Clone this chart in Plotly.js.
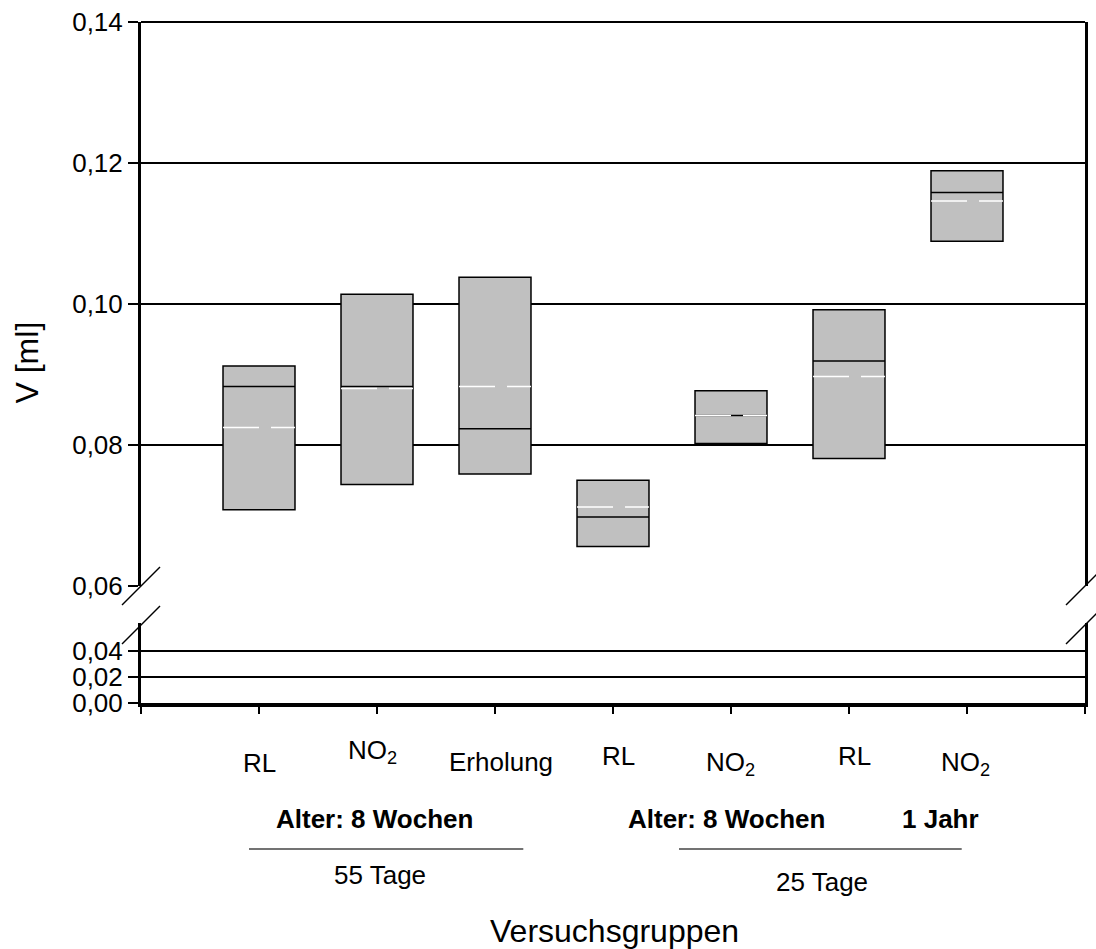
<!DOCTYPE html>
<html>
<head>
<meta charset="utf-8">
<script src="https://cdn.plot.ly/plotly-3.0.1.min.js"></script>
<style>html,body{margin:0;padding:0;background:#fff;}#chart{width:1096px;height:949px;}</style>
</head>
<body>
<div id="chart"></div>
<script>
// ---- data ----
var groups = ['RL', 'NO<sub>2</sub>', 'Erholung', 'RL', 'NO<sub>2</sub>', 'RL', 'NO<sub>2</sub>'];
var q3Vals     = [0.0912, 0.1014, 0.1038, 0.0750, 0.0877, 0.0992, 0.1189];
var medianVals = [0.0883, 0.0883, 0.0823, 0.0698, 0.0842, 0.0919, 0.1158];
var meanVals   = [0.0825, 0.0880, 0.0883, 0.0712, 0.0842, 0.0897, 0.1146];
var q1Vals     = [0.0708, 0.0744, 0.0759, 0.0656, 0.0802, 0.0781, 0.1089];
var upperTicks = [0.06, 0.08, 0.10, 0.12, 0.14];
var lowerTicks = [0.00, 0.02, 0.04];
var ageLabels = ['Alter: 8 Wochen', 'Alter: 8 Wochen', '1 Jahr'];
var durationLabels = ['55 Tage', '25 Tage'];

// ---- layout helpers (pixel -> paper) ----
var L = 141, R = 1085, T = 22, B = 703;
function px(p) { return (p - L) / (R - L); }
function py(p) { return (B - p) / (B - T); }

var FONT = 'Liberation Sans, Arial, sans-serif';
var pos = groups.map(function (g, i) { return i + 1; });
var halfW = 0.305;

// mean line segments
var mx = [], my = [];
pos.forEach(function (p, i) {
  mx.push(p - halfW, p + halfW, null);
  my.push(meanVals[i], meanVals[i], null);
});

var traces = [
  {
    type: 'box', x: pos, q1: q1Vals, median: medianVals, q3: q3Vals,
    lowerfence: q1Vals, upperfence: q3Vals, width: 2 * halfW, whiskerwidth: 0,
    fillcolor: '#c0c0c0', line: { color: '#000', width: 1.5 },
    boxpoints: false, xaxis: 'x', yaxis: 'y', hoverinfo: 'skip', showlegend: false
  },
  {
    type: 'scatter', mode: 'lines', x: mx, y: my, xaxis: 'x', yaxis: 'y',
    line: { color: '#ffffff', width: 1.5, dash: '36px,12px,36px' },
    hoverinfo: 'skip', showlegend: false
  },
  {
    // empty trace so the lower (broken) panel is created
    type: 'scatter', mode: 'lines', x: [], y: [], xaxis: 'x', yaxis: 'y2',
    hoverinfo: 'skip', showlegend: false
  }
];

// label positions (pixels)
var catX = [259.7, 372.5, 500.5, 618.3, 730, 854, 965.5];
var catY = [763, 752, 762, 756, 763, 756, 763];
var annotations = [];
groups.forEach(function (g, i) {
  annotations.push({
    text: g, xref: 'paper', yref: 'paper', x: px(catX[i]), y: py(catY[i]),
    xanchor: 'center', yanchor: 'middle', showarrow: false,
    font: { family: FONT, size: 26, color: '#000' }
  });
});
var ageX = [374.5, 726.7, 940.8];
ageLabels.forEach(function (t, i) {
  annotations.push({
    text: '<b>' + t + '</b>', xref: 'paper', yref: 'paper', x: px(ageX[i]), y: py(819),
    xanchor: 'center', yanchor: 'middle', showarrow: false,
    font: { family: FONT, size: 26, color: '#000' }
  });
});
var durX = [380, 821.7], durY = [875, 882];
durationLabels.forEach(function (t, i) {
  annotations.push({
    text: t, xref: 'paper', yref: 'paper', x: px(durX[i]), y: py(durY[i]),
    xanchor: 'center', yanchor: 'middle', showarrow: false,
    font: { family: FONT, size: 26, color: '#000' }
  });
});
annotations.push({
  text: 'Versuchsgruppen', xref: 'paper', yref: 'paper', x: px(614), y: py(931),
  xanchor: 'center', yanchor: 'middle', showarrow: false,
  font: { family: FONT, size: 32, color: '#000' }
});
annotations.push({
  text: 'V [ml]', xref: 'paper', yref: 'paper', x: px(26), y: py(362.5), textangle: -90,
  xanchor: 'center', yanchor: 'middle', showarrow: false,
  font: { family: FONT, size: 32, color: '#000' }
});

function seg(x0, y0, x1, y1, w, c) {
  return { type: 'line', xref: 'paper', yref: 'paper', x0: px(x0), y0: py(y0), x1: px(x1), y1: py(y1),
           line: { color: c || '#000', width: w } };
}
var shapes = [
  seg(L, T, R, T, 2),
  seg(122, 605, 160, 567, 1.5), seg(122, 644, 160, 606, 1.5),
  seg(1066, 605, 1104, 567, 1.5), seg(1066, 644, 1104, 606, 1.5),
  seg(249, 849, 523.3, 849, 1.5, '#444'), seg(679, 849, 961.7, 849, 1.5, '#444')
];

var layout = {
  width: 1096, height: 949,
  margin: { l: L, r: 1096 - R, t: T, b: 949 - B },
  paper_bgcolor: '#fff', plot_bgcolor: 'rgba(0,0,0,0)',
  separators: ',.',
  font: { family: FONT, size: 26, color: '#000' },
  showlegend: false,
  xaxis: {
    anchor: 'y2', range: [0, 8], tickmode: 'array', tickvals: [0, 1, 2, 3, 4, 5, 6, 7, 8],
    showticklabels: false, ticks: 'outside', ticklen: 7, tickwidth: 1.5, tickcolor: '#000',
    showgrid: false, zeroline: false, showline: true, linewidth: 4, linecolor: '#000', fixedrange: true
  },
  yaxis: {
    anchor: 'x', domain: [py(586), 1], range: [0.06, 0.14], tickmode: 'array', tickvals: upperTicks,
    tickformat: '.2f', ticks: 'outside', ticklen: 10, tickwidth: 1.5, tickcolor: '#000',
    showgrid: true, gridcolor: '#000', gridwidth: 1.5, zeroline: false,
    showline: true, linewidth: 3, linecolor: '#000', mirror: true,
    tickfont: { family: FONT, size: 26 }, fixedrange: true
  },
  yaxis2: {
    anchor: 'x', domain: [0, py(623)], range: [0, 0.0615], tickmode: 'array', tickvals: lowerTicks,
    tickformat: '.2f', ticks: 'outside', ticklen: 10, tickwidth: 1.5, tickcolor: '#000',
    showgrid: true, gridcolor: '#000', gridwidth: 1.5, zeroline: false,
    showline: true, linewidth: 3, linecolor: '#000', mirror: true,
    tickfont: { family: FONT, size: 26 }, fixedrange: true
  },
  annotations: annotations,
  shapes: shapes
};

Plotly.newPlot('chart', traces, layout, { staticPlot: true });
</script>
</body>
</html>
